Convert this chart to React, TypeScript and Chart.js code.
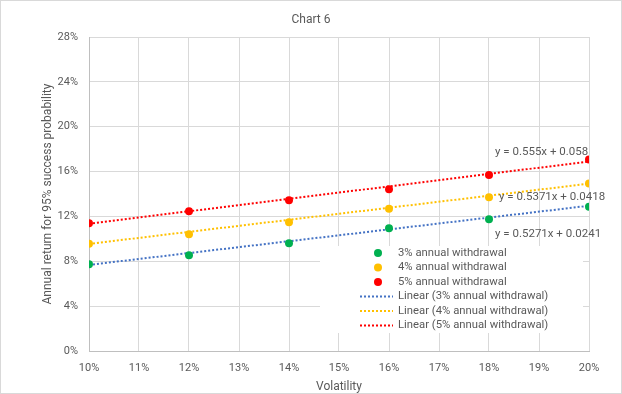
import React, { useEffect, useRef } from "react";
import { Chart, registerables } from "chart.js";

Chart.register(...registerables);

const volatility = [0.1, 0.12, 0.14, 0.16, 0.18, 0.2];
const withdrawal3 = [0.0773, 0.0853, 0.096, 0.1094, 0.1175, 0.1287];
const withdrawal4 = [0.0957, 0.104, 0.1148, 0.1269, 0.1371, 0.1493];
const withdrawal5 = [0.1139, 0.1246, 0.1344, 0.1442, 0.157, 0.1707];
const seriesNames = ["3% annual withdrawal", "4% annual withdrawal", "5% annual withdrawal"];
const trendSlopes = [0.5271, 0.5371, 0.555];
const trendIntercepts = [0.0241, 0.0418, 0.058];
const equationLabels = ["y = 0.5271x + 0.0241", "y = 0.5371x + 0.0418", "y = 0.555x + 0.058"];
const xRange = [0.1, 0.2];
const yRange = [0, 0.28];

const pointColors = ["#00B050", "#FFC000", "#FF0000"];
const lineColors = ["#4472C4", "#FFC000", "#FF0000"];
const textColor = "#595959";
const FONT = "Roboto, 'Liberation Sans', sans-serif";

const overlayPlugin = {
  id: "overlay",
  beforeDatasetsDraw(chart: any) {
    const ctx = chart.ctx;
    ctx.save();
    ctx.fillStyle = "#ffffff";
    ctx.fillRect(320, 246, 263, 87);
    ctx.restore();
  },
  afterDraw(chart: any) {
    const ctx = chart.ctx;
    ctx.save();
    // outer border
    ctx.strokeStyle = "#d9d9d9";
    ctx.lineWidth = 1;
    ctx.strokeRect(0.5, 0.5, chart.width - 1, chart.height - 1);
    // title
    ctx.fillStyle = textColor;
    ctx.font = `12px ${FONT}`;
    ctx.textAlign = "center";
    ctx.textBaseline = "middle";
    ctx.fillText("Chart 6", 311, 19.5);
    // equation labels
    ctx.font = `11.5px ${FONT}`;
    ctx.textAlign = "left";
    const eqPos = [
      [495, 234],
      [499, 197],
      [495, 152],
    ];
    equationLabels.forEach((t, i) => ctx.fillText(t, eqPos[i][0], eqPos[i][1]));
    // legend
    ctx.font = `11.3px ${FONT}`;
    const rowY = [253, 267.5, 282, 296.5, 311, 325.5];
    ctx.textBaseline = "middle";
    for (let i = 0; i < 3; i++) {
      ctx.fillStyle = pointColors[i];
      ctx.beginPath();
      ctx.arc(378, rowY[i], 4, 0, Math.PI * 2);
      ctx.fill();
      ctx.fillStyle = textColor;
      ctx.fillText(seriesNames[i], 398, rowY[i]);
    }
    for (let i = 0; i < 3; i++) {
      const y = rowY[i + 3];
      ctx.strokeStyle = lineColors[i];
      ctx.lineWidth = 2;
      ctx.setLineDash([2, 2]);
      ctx.beginPath();
      ctx.moveTo(360, y);
      ctx.lineTo(393, y);
      ctx.stroke();
      ctx.setLineDash([]);
      ctx.fillStyle = textColor;
      ctx.fillText(`Linear (${seriesNames[i]})`, 398, y);
    }
    ctx.restore();
  },
};

export default function App() {
  const ref = useRef<HTMLCanvasElement>(null);
  useEffect(() => {
    document.body.style.margin = "0";
    const series = [withdrawal3, withdrawal4, withdrawal5];
    const pointSets = series.map((vals, i) => ({
      type: "scatter" as const,
      label: seriesNames[i],
      data: volatility.map((x, j) => ({ x, y: vals[j] })),
      backgroundColor: pointColors[i],
      borderColor: pointColors[i],
      pointRadius: 4,
      pointHoverRadius: 4,
      borderWidth: 0,
      showLine: false,
      order: 0,
    }));
    const trendSets = series.map((_, i) => ({
      type: "line" as const,
      label: `Linear (${seriesNames[i]})`,
      data: xRange.map((x) => ({ x, y: trendSlopes[i] * x + trendIntercepts[i] })),
      borderColor: lineColors[i],
      borderWidth: 2,
      borderDash: [2, 2],
      pointRadius: 0,
      fill: false,
      order: 1,
    }));
    const chart = new Chart(ref.current!, {
      type: "scatter",
      data: { datasets: [...trendSets, ...pointSets] as any },
      options: {
        animation: false,
        responsive: false,
        layout: { padding: { left: 41, right: 33, top: 37, bottom: 0 } },
        plugins: { legend: { display: false }, tooltip: { enabled: false }, title: { display: false } },
        scales: {
          x: {
            type: "linear",
            min: xRange[0],
            max: xRange[1],
            afterFit: (s: any) => {
              s.height = 43;
            },
            ticks: {
              stepSize: 0.01,
              color: textColor,
              font: { family: FONT, size: 11 },
              padding: 11,
              callback: (v: any) => `${Math.round(Number(v) * 100)}%`,
            },
            grid: { color: "#d9d9d9", drawTicks: false },
            border: { color: "#bfbfbf" },
            title: {
              display: true,
              text: "Volatility",
              color: textColor,
              font: { family: FONT, size: 12 },
              padding: { top: 2, bottom: 0 },
            },
          },
          y: {
            type: "linear",
            min: yRange[0],
            max: yRange[1],
            afterFit: (s: any) => {
              s.width = 48;
            },
            ticks: {
              stepSize: 0.04,
              color: textColor,
              font: { family: FONT, size: 11 },
              padding: 11,
              callback: (v: any) => `${Math.round(Number(v) * 100)}%`,
            },
            grid: { color: "#d9d9d9", drawTicks: false },
            border: { color: "#bfbfbf" },
            title: {
              display: true,
              text: "Annual return for 95% success probability",
              color: textColor,
              font: { family: FONT, size: 12 },
              padding: { top: 0, bottom: 0 },
            },
          },
        },
      } as any,
      plugins: [overlayPlugin],
    });
    return () => chart.destroy();
  }, []);
  return (
    <div style={{ width: 622, height: 394 }}>
      <canvas ref={ref} width={622} height={394} style={{ display: "block" }} />
    </div>
  );
}
